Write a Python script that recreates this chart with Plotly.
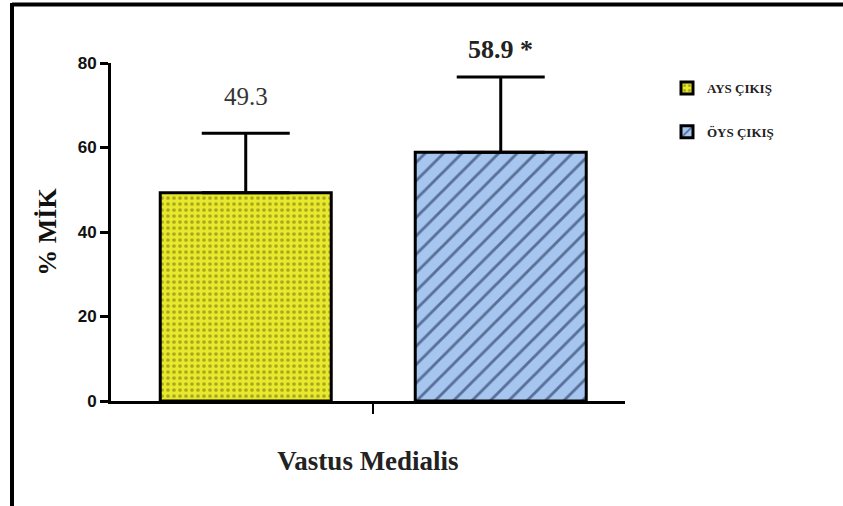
import plotly.graph_objects as go

category = ["Vastus Medialis"]
series_names = ["AYS ÇIKIŞ", "ÖYS ÇIKIŞ"]
means = [49.3, 58.9]
errors = [14.1, 17.8]
labels = ["49.3", "<b>58.9 *</b>"]
y_ticks = [0, 20, 40, 60, 80]

# layout geometry (pixels)
L, R, T, B = 111, 218, 63, 105
W, H = 843, 506
pw = W - L - R
ph = H - T - B
XR = [-0.5, 0.48]
upx = (XR[1] - XR[0]) / pw  # data units per pixel

def px_x(x):
    return (x - L) / pw

def px_y(y):
    return (H - B - y) / ph

fig = go.Figure()
fig.add_trace(go.Bar(
    x=category, y=[means[0]], name=series_names[0], legendgroup="a",
    width=171 * upx, offset=(160 - 373) * upx,
    marker=dict(color="#e8e82c", line=dict(color="black", width=3),
                pattern=dict(shape=".", fgcolor="#6a6a10", bgcolor="#e8e82c", size=6, solidity=0.3)),
    error_y=dict(type="data", array=[errors[0]], arrayminus=[0], symmetric=False,
                 color="black", thickness=3, width=44),
))
fig.add_trace(go.Bar(
    x=category, y=[means[1]], name=series_names[1], legendgroup="b",
    width=171 * upx, offset=(415 - 373) * upx,
    marker=dict(color="#a6c6ef", line=dict(color="black", width=3),
                pattern=dict(shape="/", fgcolor="#0a1a40", bgcolor="#a6c6ef", size=13, solidity=0.22)),
    error_y=dict(type="data", array=[errors[1]], arrayminus=[0], symmetric=False,
                 color="black", thickness=3, width=44),
))

fig.add_annotation(x=px_x(245.5), xref="paper", y=px_y(96), yref="paper",
                   xanchor="center", yanchor="middle",
                   text=labels[0], showarrow=False,
                   font=dict(family="Liberation Serif", size=25, color="#333"))
fig.add_annotation(x=px_x(500), xref="paper", y=px_y(49), yref="paper",
                   xanchor="center", yanchor="middle",
                   text=labels[1], showarrow=False,
                   font=dict(family="Liberation Serif", size=26, color="#222"))

# frame lines (top and left)
fig.add_shape(type="line", xref="paper", yref="paper",
              x0=px_x(12), x1=px_x(845), y0=px_y(4.5), y1=px_y(4.5),
              line=dict(color="black", width=4))
fig.add_shape(type="line", xref="paper", yref="paper",
              x0=px_x(12), x1=px_x(12), y0=px_y(3), y1=px_y(508),
              line=dict(color="black", width=4))

fig.update_layout(
    width=W, height=H,
    margin=dict(l=L, r=R, t=T, b=B, pad=0),
    paper_bgcolor="white", plot_bgcolor="white",
    barmode="overlay",
    showlegend=True,
    legend=dict(x=px_x(667), y=px_y(73), xanchor="left", yanchor="top",
                font=dict(family="Liberation Serif", size=13, color="#222", weight="bold"),
                itemwidth=30, tracegroupgap=24, bgcolor="rgba(0,0,0,0)"),
    xaxis=dict(type="category", range=XR, showline=True, linecolor="black",
               linewidth=3, ticks="outside", ticklen=10, tickwidth=2, tickcolor="black",
               tickvals=category, ticktext=[""], showgrid=False, zeroline=False,
               title=dict(text="<b>Vastus Medialis</b>", standoff=36,
                          font=dict(family="Liberation Serif", size=27, color="#222"))),
    yaxis=dict(range=[0, 80], tickvals=y_ticks, showline=True, linecolor="black",
               linewidth=3, ticks="outside", ticklen=8, tickwidth=2.5, tickcolor="black",
               showgrid=False, zeroline=False,
               tickfont=dict(family="Liberation Sans", size=17, color="#111", weight="bold"),
               title=dict(text="<b>% MİK</b>", standoff=14,
                          font=dict(family="Liberation Serif", size=26, color="#111"))),
)

fig.write_html("out.html", config={"displayModeBar": False},
               post_script="document.body.style.margin='0px';")
